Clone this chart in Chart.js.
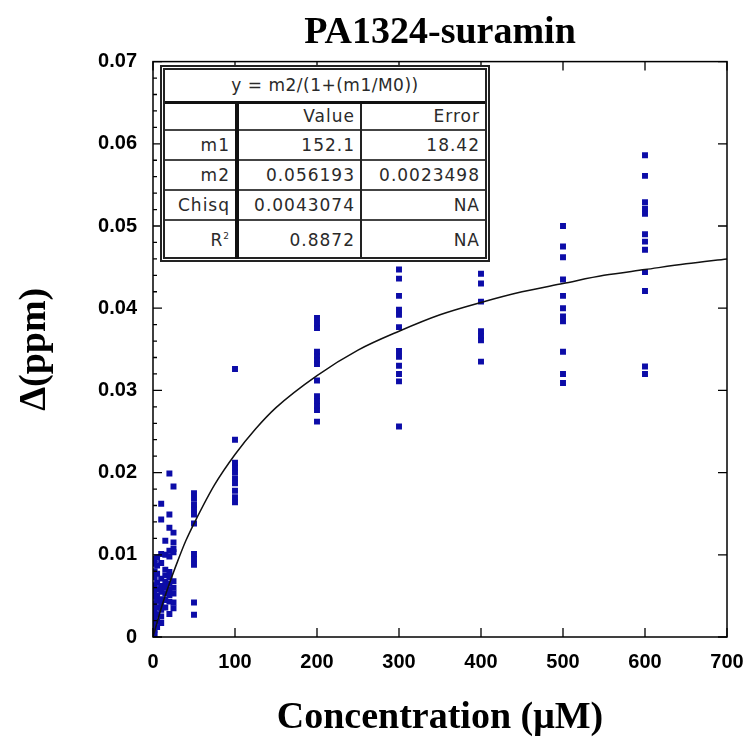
<!DOCTYPE html>
<html lang="en">
<head>
  <meta charset="UTF-8" />
  <title>PA1324-suramin</title>
  <script src="https://cdn.jsdelivr.net/npm/chart.js"></script>
  <style>
    body { margin: 0; background: #fff; }
    #wrap { position: relative; width: 748px; height: 738px; }
    .fit-box {
      position: absolute; left: 160px; top: 65px; width: 330px; height: 197px;
      box-sizing: border-box; border: 5px double #222; background: #fff;
    }
    .fit-box table {
      width: 100%; height: 100%; border-collapse: collapse; table-layout: fixed;
      font: 17px "DejaVu Sans", sans-serif; letter-spacing: 1px; color: #2a2a2a;
    }
    .fit-box td { border-top: 2px solid #444; text-align: right; padding: 0 5px 0 0; white-space: nowrap; }
    .fit-box tr.title td { border-top: none; text-align: center; padding: 0; letter-spacing: 0.5px; }
    .fit-box tr.head td { border-top: 3px solid #111; }
    .fit-box td.v { border-left: 4px solid #111; }
    .fit-box td.e { border-left: 2px solid #222; }
    .fit-box sup { font-size: 9px; vertical-align: 7px; }
  </style>
</head>
<body>
<div id="wrap">
  <canvas id="fitChart" width="748" height="738"></canvas>
  <div class="fit-box">
    <table>
      <colgroup><col style="width:72px"><col style="width:124px"><col style="width:124px"></colgroup>
      <tr class="title" style="height:32px"><td colspan="3">y = m2/(1+(m1/M0))</td></tr>
      <tr class="head" style="height:28px"><td></td><td class="v">Value</td><td class="e">Error</td></tr>
      <tr style="height:30px"><td>m1</td><td class="v">152.1</td><td class="e">18.42</td></tr>
      <tr style="height:30px"><td>m2</td><td class="v">0.056193</td><td class="e">0.0023498</td></tr>
      <tr style="height:30px"><td>Chisq</td><td class="v">0.0043074</td><td class="e">NA</td></tr>
      <tr style="height:39px"><td>R<sup>2</sup></td><td class="v">0.8872</td><td class="e">NA</td></tr>
    </table>
  </div>
</div>
<script>
  // concentrations (uM) and the shifts measured at each one
  const concentrations = [2, 5, 10, 15, 20, 25, 50, 100, 200, 300, 400, 500, 600];
  const shift2 = [0.0003, 0.0009, 0.0015, 0.0021, 0.0028, 0.0034, 0.0041, 0.0049, 0.0056, 0.0063, 0.0073, 0.0080, 0.0089, 0.0095];
  const shift5 = [0.0012, 0.0019, 0.0027, 0.0036, 0.0044, 0.0050, 0.0058, 0.0066, 0.0077, 0.0087, 0.0097];
  const shift10 = [0.0017, 0.0025, 0.0033, 0.0040, 0.0046, 0.0055, 0.0062, 0.0071, 0.0090, 0.0101, 0.0143, 0.0162];
  const shift15 = [0.0036, 0.0045, 0.0053, 0.0060, 0.0067, 0.0075, 0.0082, 0.0100, 0.0117];
  const shift20 = [0.0028, 0.0043, 0.0051, 0.0058, 0.0065, 0.0073, 0.0079, 0.0098, 0.0105, 0.0133, 0.0149, 0.0199];
  const shift25 = [0.0035, 0.0042, 0.0053, 0.0060, 0.0068, 0.0103, 0.0107, 0.0115, 0.0127, 0.0183];
  const shift50 = [0.0175, 0.0168, 0.0161, 0.0155, 0.0149, 0.0138, 0.0101, 0.0095, 0.0088, 0.0042, 0.0027];
  const shift100 = [0.0326, 0.0240, 0.0212, 0.0206, 0.0200, 0.0193, 0.0187, 0.0178, 0.0170, 0.0164];
  const shift200 = [0.0388, 0.0381, 0.0376, 0.0347, 0.0342, 0.0337, 0.0332, 0.0312, 0.0293, 0.0287, 0.0281, 0.0276, 0.0262];
  const shift300 = [0.0447, 0.0436, 0.0415, 0.0398, 0.0392, 0.0377, 0.0348, 0.0341, 0.0330, 0.0320, 0.0311, 0.0256];
  const shift400 = [0.0442, 0.0430, 0.0408, 0.0372, 0.0366, 0.0361, 0.0335];
  const shift500 = [0.0500, 0.0475, 0.0462, 0.0435, 0.0415, 0.0400, 0.0390, 0.0384, 0.0347, 0.0320, 0.0309];
  const shift600 = [0.0586, 0.0561, 0.0529, 0.0521, 0.0515, 0.0490, 0.0481, 0.0471, 0.0444, 0.0421, 0.0329, 0.0320];
  const shifts = [shift2, shift5, shift10, shift15, shift20, shift25, shift50, shift100, shift200, shift300, shift400, shift500, shift600];

  // fitted curve
  const fitX = [0, 10, 20, 30, 40, 50, 75, 100, 125, 150, 200, 250, 300, 350, 400, 450, 500, 550, 600, 650, 700];
  const fitY = [0, 0.0035, 0.0065, 0.0092, 0.0117, 0.0138, 0.0185, 0.0222, 0.0253, 0.0279, 0.0318, 0.0349, 0.0372, 0.0392, 0.0407, 0.0420, 0.0430, 0.0440, 0.0447, 0.0454, 0.0460];

  const xTickLabels = ['0', '100', '200', '300', '400', '500', '600', '700'];
  const yTickLabels = ['0', '0.01', '0.02', '0.03', '0.04', '0.05', '0.06', '0.07'];

  const points = [];
  concentrations.forEach((c, i) => {
    shifts[i].forEach(v => points.push({ x: c, y: v }));
  });
  const fitPoints = fitX.map((x, i) => ({ x: x, y: fitY[i] }));

  // box frame + inward tick marks
  const frame = {
    id: 'frame',
    afterDatasetsDraw(chart) {
      const ctx = chart.ctx;
      const a = chart.chartArea;
      const xs = chart.scales.x, ys = chart.scales.y;
      ctx.save();
      ctx.strokeStyle = '#000';
      ctx.lineWidth = 1.5;
      ctx.strokeRect(a.left, a.top, a.right - a.left, a.bottom - a.top);
      ctx.lineWidth = 1.3;
      ctx.beginPath();
      xs.ticks.forEach(t => {
        const px = xs.getPixelForValue(t.value);
        ctx.moveTo(px, a.bottom); ctx.lineTo(px, a.bottom - 9);
        ctx.moveTo(px, a.top); ctx.lineTo(px, a.top + 9);
      });
      const yt = ys.ticks;
      yt.forEach((t, i) => {
        const py = ys.getPixelForValue(t.value);
        ctx.moveTo(a.left, py); ctx.lineTo(a.left + 9, py);
        ctx.moveTo(a.right, py); ctx.lineTo(a.right - 9, py);
        if (i < yt.length - 1) {
          const step = (yt[i + 1].value - t.value) / 5;
          for (let k = 1; k < 5; k++) {
            const pm = ys.getPixelForValue(t.value + step * k);
            ctx.moveTo(a.left, pm); ctx.lineTo(a.left + 4, pm);
          }
        }
      });
      ctx.stroke();
      ctx.restore();
    }
  };

  const tickFont = { family: '"Liberation Sans", Arial, sans-serif', size: 20, weight: 'bold' };
  const titleFont = { family: '"Liberation Serif", "Times New Roman", serif', size: 38, weight: 'bold', lineHeight: 1 };

  new Chart(document.getElementById('fitChart'), {
    type: 'scatter',
    data: {
      datasets: [
        {
          type: 'line',
          data: fitPoints,
          borderColor: '#111',
          borderWidth: 1.5,
          pointRadius: 0,
          cubicInterpolationMode: 'monotone',
          order: 0
        },
        {
          data: points,
          pointStyle: 'rect',
          pointRadius: 4.2,
          backgroundColor: '#0c0ca8',
          borderWidth: 0,
          order: 1
        }
      ]
    },
    options: {
      responsive: false,
      animation: false,
      layout: { padding: { left: 0, right: 21, top: 0, bottom: 0 } },
      plugins: {
        legend: { display: false },
        tooltip: { enabled: false },
        title: {
          display: true,
          text: 'PA1324-suramin',
          fullSize: false,
          color: '#000',
          font: { family: '"Liberation Serif", "Times New Roman", serif', size: 38, weight: 'bold', lineHeight: 1.2 },
          padding: { top: 10, bottom: 6 }
        }
      },
      scales: {
        x: {
          type: 'linear',
          min: 0,
          max: 700,
          afterFit: s => { s.height = 101; s.paddingLeft = 0; s.paddingRight = 0; },
          grid: { display: false, drawTicks: false },
          border: { display: false },
          ticks: {
            stepSize: 100,
            padding: 13,
            color: '#000',
            font: tickFont,
            callback: (v, i) => xTickLabels[i]
          },
          title: {
            display: true,
            text: 'Concentration (\u03BCM)',
            color: '#000',
            font: titleFont,
            padding: { bottom: 1 }
          }
        },
        y: {
          min: 0,
          max: 0.07,
          afterFit: s => { s.width = 153; },
          grid: { display: false, drawTicks: false },
          border: { display: false },
          ticks: {
            stepSize: 0.01,
            padding: 16,
            color: '#000',
            font: tickFont,
            callback: (v, i) => yTickLabels[i]
          },
          title: {
            display: true,
            text: '\u0394(ppm)',
            color: '#000',
            font: titleFont,
            padding: { top: 16 }
          }
        }
      }
    },
    plugins: [frame]
  });
</script>
</body>
</html>
